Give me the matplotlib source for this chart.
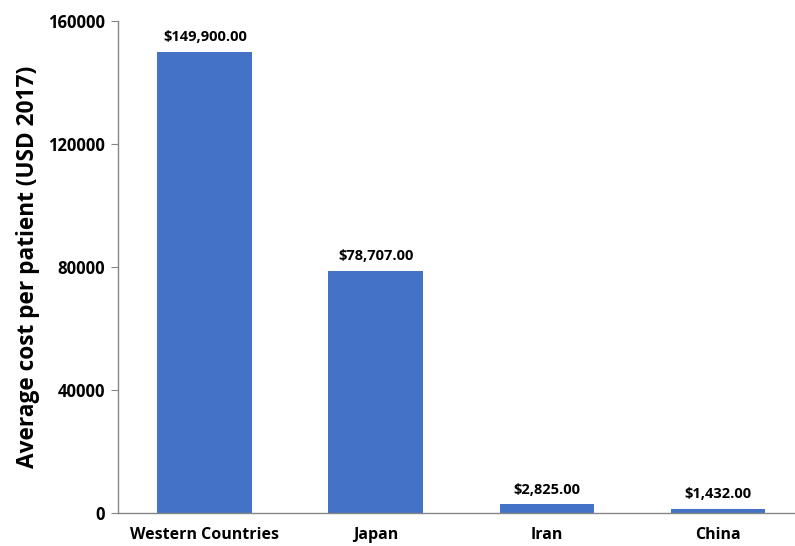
import matplotlib
matplotlib.use("Agg")
import matplotlib.pyplot as plt

categories = ["Western Countries", "Japan", "Iran", "China"]
costs = [149900, 78707, 2825, 1432]
yticks = [0, 40000, 80000, 120000, 160000]

plt.rcParams["font.family"] = ["Open Sans", "DejaVu Sans"]

fig = plt.figure(figsize=(7.95, 5.46), dpi=100)
ax = fig.add_axes([0.148, 0.0604, 0.852, 0.9011])

x = range(len(categories))
bars = ax.bar(x, costs, width=0.555, color="#4472C4")
for b, v in zip(bars, costs):
    ax.text(b.get_x() + b.get_width() / 2, v + 2500, "${:,.2f}".format(v),
            ha="center", va="bottom", fontsize=10.5, fontweight="bold")

ax.set_xlim(-0.51, 3.45)
ax.set_ylim(0, 160000)
ax.set_yticks(yticks)
ax.set_yticklabels([str(t) for t in yticks])
ax.set_xticks(list(x))
ax.set_xticklabels(categories)

for s in ["top", "right"]:
    ax.spines[s].set_visible(False)
for s in ["left", "bottom"]:
    ax.spines[s].set_color("#868686")
    ax.spines[s].set_linewidth(1)

ax.tick_params(axis="y", length=5, color="#868686", labelsize=12, pad=4)
ax.tick_params(axis="x", length=0, labelsize=11.5, pad=10)
for lbl in ax.get_yticklabels() + ax.get_xticklabels():
    lbl.set_fontweight("bold")

ax.set_ylabel("Average cost per patient (USD 2017)", fontsize=16.3,
              fontweight="bold", labelpad=6)

fig.savefig("out.png", dpi=100)
